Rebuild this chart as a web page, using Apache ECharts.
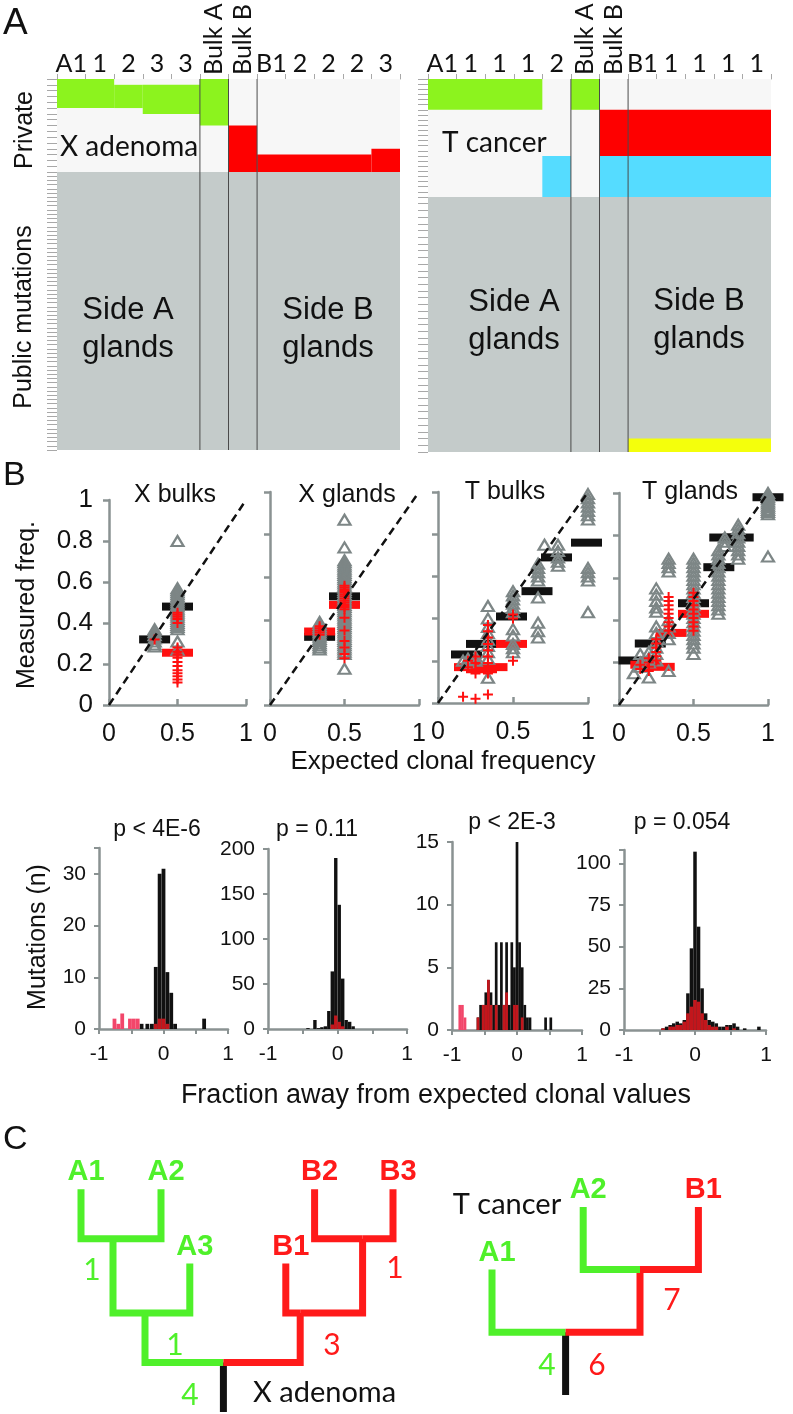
<!DOCTYPE html>
<html><head><meta charset="utf-8">
<script src="https://cdn.jsdelivr.net/npm/echarts@6/dist/echarts.min.js"></script>
<style>html,body{margin:0;padding:0;background:#fff}#c{width:793px;height:1414px}</style>
</head><body><div id="c"></div><script>
// ---------- DATA ----------
// Panel A column labels
const xAdenomaCols = ['A1','1','2','3','3','Bulk A','Bulk B','B1','2','2','2','3'];
const tCancerCols  = ['A1','1','1','1','2','Bulk A','Bulk B','B1','1','1','1','1'];
// rows (mutations) per block
const xPrivateRows = 16, xPublicRows = 66, tPrivateRows = 23, tPublicRows = 38;
// cells: [colStart, colEnd, rowStart, rowEnd, kind]
const xPrivateCells = [[0,12,0,16,'bg'],[0,2,0,5,'g'],[2,3,1,5,'g'],[3,5,1,6,'g'],[5,6,0,8,'g'],[6,7,8,16,'r'],[7,11,13,16,'r'],[11,12,12,16,'r']];
const xPublicCells  = [[0,12,0,66,'p']];
const tPrivateCells = [[0,12,0,23,'bg'],[0,4,0,6,'g'],[5,6,0,6,'g'],[6,12,6,15,'r'],[4,5,15,23,'c'],[6,12,15,23,'c']];
const tPublicCells  = [[0,12,0,38,'p'],[7,12,36,38,'y']];
const bulkSeparators = [5,6,7];

// Panel B scatter: [expected, [measured...]]
const xbTri = [[0.333,[0.37,0.355,0.34,0.325,0.31,0.295,0.285]],[0.5,[0.80,0.57,0.56,0.55,0.54,0.53,0.52,0.51,0.50,0.49,0.48,0.47,0.46,0.45,0.44,0.43,0.42,0.41,0.40,0.39,0.38,0.37,0.31,0.27]]];
const xbCross = [[0.333,[0.32]],[0.5,[0.45,0.44,0.43,0.42,0.40,0.28,0.26,0.245,0.23,0.21,0.19,0.17,0.155,0.14,0.125,0.11]]];
const xbBlack = [[0.333,0.32],[0.5,0.48]];
const xbRed = [[0.5,0.255]];

const xgTri = [[0.333,[0.39,0.38,0.37,0.36,0.35,0.34,0.33,0.32,0.31,0.30,0.29,0.28,0.27,0.26]],[0.5,[0.87,0.74,0.68,0.67,0.66,0.65,0.64,0.63,0.62,0.61,0.60,0.59,0.58,0.57,0.56,0.55,0.54,0.53,0.52,0.51,0.50,0.49,0.48,0.47,0.46,0.45,0.44,0.43,0.42,0.41,0.40,0.39,0.38,0.37,0.36,0.35,0.34,0.33,0.32,0.31,0.30,0.29,0.28,0.27,0.26,0.25,0.24,0.17]]];
const xgCross = [[0.333,[0.37,0.36,0.35,0.34,0.33]],[0.5,[0.56,0.55,0.54,0.53,0.52,0.51,0.50,0.49,0.48,0.47,0.46,0.45,0.41,0.35,0.30,0.27,0.24,0.22]]];
const xgBlack = [[0.333,0.32],[0.5,0.51]];
const xgRed = [[0.333,0.345],[0.5,0.47]];

const tbTri = [[1,[0.99,0.97,0.95,0.93,0.91,0.89,0.87,0.64,0.62,0.60,0.58,0.43]],[0.8,[0.75,0.72,0.69,0.67,0.65]],[0.71,[0.75]],[0.667,[0.66,0.64,0.62,0.60,0.58,0.50,0.38,0.34,0.31]],[0.5,[0.53,0.51,0.49,0.47,0.45,0.43,0.35,0.32,0.28,0.26,0.24]],[0.333,[0.46,0.40,0.36,0.33,0.30,0.27,0.24,0.21,0.12]],[0.25,[0.22,0.20]],[0.2,[0.21,0.19]],[0.167,[0.20]]];
const tbCross = [[0.333,[0.37,0.34,0.31,0.28,0.25,0.22,0.19,0.14,0.04]],[0.5,[0.42,0.40,0.20]],[0.25,[0.22,0.19,0.16,0.14,0.02]],[0.2,[0.20,0.17]],[0.167,[0.03]]];
const tbBlack = [[0.19,0.23],[0.29,0.28],[0.49,0.41],[0.66,0.53],[0.79,0.69],[0.99,0.76]];
const tbRed = [[0.21,0.17],[0.29,0.16],[0.36,0.17],[0.49,0.28]];

const tgTri = [[1,[1.0,0.99,0.98,0.97,0.96,0.95,0.94,0.93,0.92,0.91,0.90,0.70]],[0.8,[0.85,0.83,0.81,0.79,0.77,0.75,0.73,0.71,0.69]],[0.71,[0.79,0.77,0.75]],[0.667,[0.73,0.71,0.69,0.67,0.65,0.63,0.61,0.59,0.57,0.55,0.53,0.51,0.49,0.47,0.45,0.43]],[0.5,[0.69,0.67,0.65,0.63,0.61,0.59,0.57,0.55,0.53,0.51,0.49,0.47,0.45,0.43,0.41,0.39,0.37,0.35,0.33,0.31,0.29,0.27,0.24]],[0.333,[0.69,0.67,0.65,0.63,0.40,0.37,0.34,0.31,0.16]],[0.25,[0.55,0.52,0.49,0.46,0.44,0.37,0.34,0.30,0.27,0.24,0.21]],[0.2,[0.25,0.22,0.20,0.13]],[0.143,[0.24,0.20,0.18]],[0.1,[0.15]]];
const tgCross = [[0.333,[0.51,0.49,0.47,0.45,0.43,0.41,0.39,0.37,0.35]],[0.5,[0.53,0.51,0.49,0.47,0.45,0.43,0.41,0.39,0.37,0.35]],[0.25,[0.31,0.29,0.27,0.25,0.23,0.21]],[0.2,[0.22,0.20,0.18,0.16]],[0.143,[0.19,0.17]]];
const tgBlack = [[0.1,0.21],[0.21,0.29],[0.5,0.48],[0.67,0.65],[0.71,0.79],[0.8,0.79],[1,0.98]];
const tgRed = [[0.18,0.19],[0.27,0.18],[0.35,0.34],[0.5,0.43]];

// Histograms: [bin centre, count]
const h1Black = [[-0.34,1],[-0.25,1],[-0.18,1],[-0.12,12],[-0.06,30],[0,31],[0.06,11],[0.12,7],[0.18,1],[0.63,2]];
const h1Red   = [[-0.12,1],[-0.06,2],[0,2],[0.06,1]];
const h1Pink  = [[-0.76,2],[-0.7,1],[-0.64,3],[-0.52,2],[-0.46,2],[-0.4,2]];
const h2Black = [[-0.425,1],[-0.325,10],[-0.275,1],[-0.225,2],[-0.175,3],[-0.125,20],[-0.075,64],[-0.025,190],[0.025,138],[0.075,56],[0.125,10],[0.175,8],[0.225,3]];
const h2Red   = [[-0.075,5],[-0.025,15],[0.025,8],[0.075,3]];
const h2Pink  = [];
const h3Black = [[-0.6,1],[-0.56,2],[-0.52,2],[-0.48,3],[-0.44,4],[-0.4,3],[-0.36,2],[-0.32,7],[-0.28,2],[-0.24,7],[-0.2,2],[-0.16,7],[-0.12,2],[-0.08,7],[-0.04,5],[0,15],[0.04,7],[0.08,5],[0.12,2],[0.16,1],[0.2,1],[0.44,1],[0.52,1]];
const h3Red   = [[-0.6,1],[-0.52,2],[-0.48,2],[-0.44,4],[-0.4,2],[-0.32,2],[-0.2,2],[-0.16,3],[-0.04,2],[0,2],[0.08,1]];
const h3Pink  = [[-0.88,2],[-0.84,2],[-0.8,1]];
const h4Black = [[-0.45,1],[-0.4,2],[-0.35,3],[-0.3,4],[-0.25,5],[-0.2,4],[-0.15,6],[-0.1,22],[-0.05,49],[0,107],[0.05,62],[0.1,25],[0.15,10],[0.2,6],[0.25,5],[0.3,4],[0.35,2],[0.4,2],[0.45,3],[0.5,3],[0.55,4],[0.6,2],[0.7,1],[0.9,2]];
const h4Red   = [[-0.45,1],[-0.35,2],[-0.3,2],[-0.25,3],[-0.2,3],[-0.15,5],[-0.1,10],[-0.05,14],[0,18],[0.05,17],[0.1,10],[0.15,6],[0.2,3],[0.25,2],[0.3,2],[0.45,2],[0.55,1]];
const h4Pink  = [];

// Panel C trees (layout units)
const xTreeNodes = [
  {id:'root',x:9.9,y:1,parent:null},
  {id:'A123',x:5,y:2,parent:'root',side:'A'},
  {id:'B123',x:14.7,y:2,parent:'root',side:'B'},
  {id:'A12',x:3,y:3.5,parent:'A123',side:'A'},
  {id:'A3',x:7.8,y:3,parent:'A123',side:'A',label:'A3'},
  {id:'A1',x:1,y:4.5,parent:'A12',side:'A',label:'A1'},
  {id:'A2',x:6,y:4.5,parent:'A12',side:'A',label:'A2'},
  {id:'B1',x:13.8,y:3,parent:'B123',side:'B',label:'B1'},
  {id:'B23',x:18.6,y:3.5,parent:'B123',side:'B'},
  {id:'B2',x:15.6,y:4.5,parent:'B23',side:'B',label:'B2'},
  {id:'B3',x:20.5,y:4.5,parent:'B23',side:'B',label:'B3'}
];
const tTreeNodes = [
  {id:'root',x:5.6,y:1,parent:null},
  {id:'A1',x:1,y:2,parent:'root',side:'A',label:'A1'},
  {id:'N',x:10.25,y:2,parent:'root',side:'B'},
  {id:'A2',x:6.7,y:3,parent:'N',side:'A',label:'A2'},
  {id:'B1',x:13.9,y:3,parent:'N',side:'B',label:'B1'}
];

// ---------- STYLE ----------
const F = "'Liberation Sans', Arial, sans-serif";
const CAL = "Lato, 'Liberation Sans', sans-serif";
const axisGrey = '#8a9292';
const cellColors = {bg:'#f7f7f7', g:'#8cf31e', r:'#fe0000', c:'#55dcff', y:'#f4ff0c', p:'#c4cbca'};
const treeGreen = '#4ff02a', treeRed = '#ff1a1a', treeBlack = '#111';
const plusPath = 'path://M4,0H6V4H10V6H6V10H4V6H0V4H4Z';

const grids = [], xAxes = [], yAxes = [], series = [];
const addGrid = r => { grids.push(Object.assign({containLabel:false, outerBoundsMode:'none'}, r)); return grids.length-1; };
const addX = a => { xAxes.push(a); return xAxes.length-1; };
const addY = a => { yAxes.push(a); return yAxes.length-1; };

function cellSeries(xi, yi, cells){
  return {type:'custom', xAxisIndex:xi, yAxisIndex:yi, silent:true, data:cells.map(c=>[c[0],c[2],c[1],c[3]]),
    renderItem:(p,api)=>{ const c=cells[p.dataIndex]; const a=api.coord([c[0],c[2]]), b=api.coord([c[1],c[3]]);
      return {type:'rect', shape:{x:a[0],y:a[1],width:b[0]-a[0],height:b[1]-a[1]}, style:{fill:cellColors[c[4]]}}; }};
}
function sepSeries(xi, yi, seps, rows){
  return {type:'custom', xAxisIndex:xi, yAxisIndex:yi, silent:true, data:seps.map(s=>[s,0]),
    renderItem:(p,api)=>{ const v=seps[p.dataIndex]; const a=api.coord([v,0]), b=api.coord([v,rows]);
      return {type:'line', shape:{x1:a[0],y1:a[1],x2:b[0],y2:b[1]}, style:{stroke:'#4a4a4a', lineWidth:1}}; }};
}
function heatPanel(o){
  const gP = addGrid({left:o.left, top:o.top, width:o.width, height:o.hPriv});
  const gQ = addGrid({left:o.left, top:o.top+o.hPriv, width:o.width, height:o.hPub});
  const gL = addGrid({left:o.left, top:o.top, width:o.width, height:o.hPriv});
  const yTick = {show:true, length:10, lineStyle:{color:'#a8a8a8', width:1}};
  addX({gridIndex:gP, type:'category', position:'top', data:o.cols.map(c=>c.indexOf('Bulk')===0?'':c), boundaryGap:true,
    axisLine:{show:true, lineStyle:{color:'#a8a8a8', width:1}}, axisTick:{show:true, interval:0, length:5, lineStyle:{color:'#a8a8a8'}},
    axisLabel:{interval:0, fontFamily:CAL, fontSize:25, color:'#111', margin:3}, splitLine:{show:false}});
  const xvP = addX({gridIndex:gP, type:'value', min:0, max:o.cols.length, show:false});
  const yP = addY({gridIndex:gP, type:'value', inverse:true, min:0, max:o.privRows, interval:1, axisLine:{show:false}, axisTick:yTick, axisLabel:{show:false}, splitLine:{show:false}});
  const xvQ = addX({gridIndex:gQ, type:'value', min:0, max:o.cols.length, show:false});
  const yQ = addY({gridIndex:gQ, type:'value', inverse:true, min:0, max:o.pubRows, interval:1, axisLine:{show:false}, axisTick:yTick, axisLabel:{show:false}, splitLine:{show:false}});
  addX({gridIndex:gL, type:'category', position:'top', data:o.cols.map(c=>c.indexOf('Bulk')===0?c:''), boundaryGap:true,
    axisLine:{show:false}, axisTick:{show:false}, axisLabel:{interval:0, rotate:90, fontFamily:CAL, fontSize:25, color:'#111', margin:4}, splitLine:{show:false}});
  addY({gridIndex:gL, type:'value', show:false});
  series.push(cellSeries(xvP, yP, o.privCells));
  series.push(cellSeries(xvQ, yQ, o.pubCells));
  series.push(sepSeries(xvP, yP, bulkSeparators, o.privRows));
  series.push(sepSeries(xvQ, yQ, bulkSeparators, o.pubRows));
}
const expand = groups => groups.flatMap(g => g[1].map(v => [g[0], v]));
function scatterPanel(o){
  const g = addGrid({left:o.left, top:o.top, width:o.width, height:o.height});
  const line = {show:true, onZero:false, lineStyle:{color:axisGrey, width:2.5}};
  const xi = addX({gridIndex:g, type:'value', min:0, max:1, interval:0.5, axisLine:line,
    axisTick:{show:true, inside:true, length:6, lineStyle:{color:axisGrey, width:2.5}},
    axisLabel:{fontFamily:F, fontSize:25, color:'#111', margin:17}, splitLine:{show:false}});
  const yi = addY({gridIndex:g, type:'value', min:0, max:1, interval:0.2, axisLine:line,
    axisTick:{show:true, length:6, lineStyle:{color:axisGrey, width:2.5}},
    axisLabel:{show:o.yLabels, fontFamily:F, fontSize:26, color:'#111', margin:16}, splitLine:{show:false}});
  const sc = (data, symbol, size, style) => ({type:'scatter', xAxisIndex:xi, yAxisIndex:yi, data, symbol, symbolSize:size, itemStyle:Object.assign({opacity:1}, style), silent:true});
  series.push({type:'line', xAxisIndex:xi, yAxisIndex:yi, data:[[0,0],[1,1]], symbol:'none', silent:true, lineStyle:{color:'#111', width:2.5, type:[8,5]}});
  series.push(sc(o.black, 'rect', [31,8], {color:'#111'}));
  series.push(sc(o.red, 'rect', [31,8], {color:'#ff1010'}));
  series.push(sc(expand(o.tri), 'triangle', [12,10], {color:'rgba(0,0,0,0)', borderColor:'#7d8686', borderWidth:2.2}));
  series.push(sc(expand(o.cross), plusPath, 10, {color:'#ff1010'}));
}
function histPanel(o){
  const g = addGrid({left:o.left, top:o.top, width:o.width, height:o.height});
  const line = {show:true, onZero:false, lineStyle:{color:axisGrey, width:2.5}};
  const tick = {show:true, length:5, lineStyle:{color:axisGrey, width:2}};
  const xi = addX({gridIndex:g, type:'value', min:-1, max:1, interval:0.5, axisLine:line, axisTick:tick,
    axisLabel:{fontFamily:F, fontSize:21, color:'#111', margin:15, formatter:v=>{const r=Math.round(v*1000)/1000; return (r===-1||r===0||r===1)?String(r):'';}}, splitLine:{show:false}});
  const yi = addY({gridIndex:g, type:'value', min:0, max:o.ymax, interval:o.yint, axisLine:line, axisTick:tick,
    axisLabel:{fontFamily:F, fontSize:21, color:'#111', margin:13, formatter:v=>(Math.abs(v/o.yint-Math.round(v/o.yint))<1e-9?String(v):'')}, splitLine:{show:false}});
  const bar = (data,color)=>({type:'bar', xAxisIndex:xi, yAxisIndex:yi, data, barWidth:o.barW, barGap:'-100%', itemStyle:{color}, silent:true});
  series.push(bar(o.black,'#111'), bar(o.red,'#c3161c'), bar(o.pink,'#f2466a'));
}
function treeSeries(xi, yi, nodes){
  return {type:'custom', xAxisIndex:xi, yAxisIndex:yi, silent:true, data:nodes.map(n=>[n.x,n.y]),
    renderItem:(p,api)=>{
      const n=nodes[p.dataIndex]; const par=nodes.find(q=>q.id===n.parent);
      const top=api.coord([n.x,n.y]); let pts, col;
      if(!par){ pts=[top, api.coord([n.x,0])]; col=treeBlack; }
      else { pts=[top, api.coord([n.x,par.y]), api.coord([par.x,par.y])]; col=n.side==='A'?treeGreen:treeRed; }
      const ch=[{type:'polyline', shape:{points:pts}, style:{stroke:col, lineWidth:7, fill:'none', lineJoin:'miter', lineCap:'butt'}}];
      if(n.label) ch.push({type:'text', x:top[0]+5, y:top[1]-17, style:{text:n.label, fill:col, fontSize:29, fontWeight:'bold', fontFamily:F, align:'center', verticalAlign:'middle'}});
      return {type:'group', children:ch};
    }};
}
function treePanel(o){
  const g = addGrid({left:o.left, top:o.top, width:o.width, height:o.height});
  const xi = addX({gridIndex:g, type:'value', min:0, max:o.xmax, show:false});
  const yi = addY({gridIndex:g, type:'value', min:0, max:o.ymax, show:false});
  series.push(treeSeries(xi, yi, o.nodes));
}

// ---------- BUILD ----------
heatPanel({left:57, top:79, width:343, hPriv:93, hPub:278, cols:xAdenomaCols, privRows:xPrivateRows, pubRows:xPublicRows, privCells:xPrivateCells, pubCells:xPublicCells});
heatPanel({left:428, top:79, width:343, hPriv:118, hPub:255, cols:tCancerCols, privRows:tPrivateRows, pubRows:tPublicRows, privCells:tPrivateCells, pubCells:tPublicCells});

scatterPanel({left:109, top:500, width:137, height:205, yLabels:true, tri:xbTri, cross:xbCross, black:xbBlack, red:xbRed});
scatterPanel({left:270, top:492, width:149, height:213, yLabels:false, tri:xgTri, cross:xgCross, black:xgBlack, red:xgRed});
scatterPanel({left:438, top:492, width:150, height:211, yLabels:false, tri:tbTri, cross:tbCross, black:tbBlack, red:tbRed});
scatterPanel({left:619, top:493, width:149, height:212, yLabels:false, tri:tgTri, cross:tgCross, black:tgBlack, red:tgRed});

histPanel({left:99, top:848, width:129, height:181, ymax:35, yint:10, barW:3.8, black:h1Black, red:h1Red, pink:h1Pink});
histPanel({left:268, top:849, width:139, height:180, ymax:200, yint:50, barW:3.4, black:h2Black, red:h2Red, pink:h2Pink});
histPanel({left:452, top:842, width:130, height:188, ymax:15, yint:5, barW:2.7, black:h3Black, red:h3Red, pink:h3Pink});
histPanel({left:624, top:850, width:142, height:180, ymax:108, yint:25, barW:3.5, black:h4Black, red:h4Red, pink:h4Pink});

treePanel({left:65, top:1164.5, width:352, height:247.5, xmax:22, ymax:5, nodes:xTreeNodes});
treePanel({left:476, top:1144.2, width:288, height:250.8, xmax:18, ymax:4, nodes:tTreeNodes});

function T(text, x, y, size, family, o){
  o = o || {};
  return {type:'text', x, y, rotation:o.rot||0, z:100, silent:true,
    style:{text, fontSize:size, fontFamily:family, fill:o.fill||'#111', fontWeight:o.weight||'normal', align:o.align||'center', verticalAlign:'middle', lineHeight:o.lh||undefined}};
}
const R = Math.PI/2;
const graphics = [
  T('A', 3, 24, 37, F, {align:'left'}),
  T('B', 3, 476, 34, F, {align:'left'}),
  T('C', 3, 1140, 34, F, {align:'left'}),
  T('Private', 25, 130, 25, F, {rot:R}),
  T('Public mutations', 24, 317, 25, F, {rot:R}),
  T('X adenoma', 60, 147, 28, CAL, {align:'left'}),
  T('T cancer', 442, 143, 28, CAL, {align:'left'}),
  T('Side A\nglands', 128, 329, 31, F, {lh:38}),
  T('Side B\nglands', 328, 329, 31, F, {lh:38}),
  T('Side A\nglands', 514, 321, 31, F, {lh:38}),
  T('Side B\nglands', 699, 320, 31, F, {lh:38}),
  T('X bulks', 175, 495, 25, F),
  T('X glands', 347, 495, 25, F),
  T('T bulks', 505, 492, 25, F),
  T('T glands', 690, 492, 25, F),
  T('Measured freq.', 27, 605, 25, F, {rot:R}),
  T('Expected clonal frequency', 443, 762, 26, F),
  T('Mutations (n)', 38, 937, 25, F, {rot:R}),
  T('p < 4E-6', 157, 830, 23, F),
  T('p = 0.11', 317, 830, 23, F),
  T('p < 2E-3', 512, 823, 23, F),
  T('p = 0.054', 682, 823, 23, F),
  T('Fraction away from expected clonal values', 436, 1096, 27, F),
  T('1', 92, 1270, 30, CAL, {fill:treeGreen}),
  T('1', 175, 1345, 30, CAL, {fill:treeGreen}),
  T('4', 190, 1395, 30, CAL, {fill:treeGreen}),
  T('3', 332, 1345, 30, CAL, {fill:treeRed}),
  T('1', 395, 1268, 30, CAL, {fill:treeRed}),
  T('X adenoma', 253, 1393, 29, CAL, {align:'left'}),
  T('T cancer', 507, 1205, 29, CAL),
  T('7', 672, 1300, 30, CAL, {fill:treeRed}),
  T('4', 547, 1365, 30, CAL, {fill:treeGreen}),
  T('6', 597, 1365, 30, CAL, {fill:treeRed})
];

const chart = echarts.init(document.getElementById('c'), null, {renderer:'canvas', width:793, height:1414});
chart.setOption({animation:false, backgroundColor:'#fff', grid:grids, xAxis:xAxes, yAxis:yAxes, series, graphic:graphics});
</script></body></html>
